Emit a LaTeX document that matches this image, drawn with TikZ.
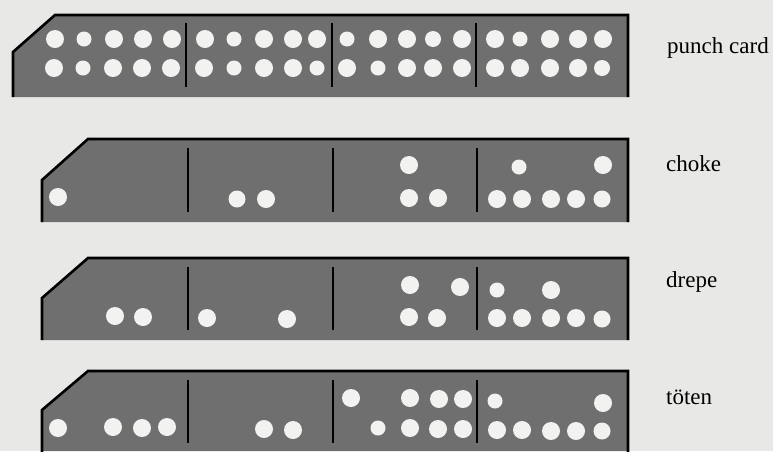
\documentclass[tikz,border=0pt]{standalone}
\usepackage{fontspec}
\setmainfont{Liberation Serif}
\definecolor{paper}{HTML}{E8E8E6}
\definecolor{cardgrey}{HTML}{6F6F6F}
\definecolor{holewhite}{HTML}{F2F2F0}
\tikzset{
  cardbody/.style={fill=cardgrey, draw=none},
  cardedge/.style={draw=black, line width=2.6pt, line join=miter},
  divider/.style={draw=black, line width=2.2pt},
  hole/.style={fill=holewhite, draw=none},
  lbl/.style={anchor=base west, inner sep=0pt, font=\fontsize{23}{26}\selectfont}
}
\begin{document}
\begin{tikzpicture}[x=1pt,y=-1pt]
\fill[paper] (0,0) rectangle (773,451);
\useasboundingbox (0,0) rectangle (773,451);

% ---- card 1 : punch card
\fill[cardbody] (13,97) -- (13,52) -- (55,15) -- (628,15) -- (628,97) -- cycle;
\draw[cardedge] (13,97) -- (13,52) -- (55,15) -- (628,15) -- (628,97);
\foreach \x in {186,332,476} \draw[divider] (\x,23) -- (\x,87);
\foreach \x/\y/\r in {55/39/9,84/39/7.5,114/39/9,143/39/9,172/39/9,
                      54/68/9,83/68/7.5,113/68/9,142/68/9,171/68/9,
                      205/39/9,234/39/7.5,264/39/9,293/39/9,317/39/9,
                      204/68/9,234/68/7.5,264/68/9,293/68/9,317/68/7.5,
                      347/39/7.5,378/39/9,407/39/9,433/39/8,462/39/9,
                      347/68/9,378/68/7.5,407/68/9,433/68/9,462/68/9,
                      495/39/9,520/39/7.5,550/39/9,578/39/9,603/39/9,
                      495/68/9,520/68/9,550/68/9,578/68/9,602/68/8}
  \fill[hole] (\x,\y) circle (\r);
\node[lbl] (l1) at (667,53) {punch card};

% ---- card 2 : choke
\fill[cardbody] (42,222) -- (42,180) -- (88,139) -- (628,139) -- (628,222) -- cycle;
\draw[cardedge] (42,222) -- (42,180) -- (88,139) -- (628,139) -- (628,222);
\foreach \x in {188,333,477} \draw[divider] (\x,148) -- (\x,212);
\foreach \x/\y/\r in {58/197/9,
                      237/199/8.5,266/199/9,
                      409/165/9,409/198/9,438/198/9,
                      519/167/7.5,603/165/9,
                      497/199/9,522/199/9,551/199/9,576/199/9,602/199/8.5}
  \fill[hole] (\x,\y) circle (\r);
\node[lbl] (l2) at (666,171) {choke};

% ---- card 3 : drepe
\fill[cardbody] (42,340) -- (42,298) -- (88,258) -- (628,258) -- (628,340) -- cycle;
\draw[cardedge] (42,340) -- (42,298) -- (88,258) -- (628,258) -- (628,340);
\foreach \x in {188,333,477} \draw[divider] (\x,267) -- (\x,330);
\foreach \x/\y/\r in {115/316/9,143/317/9,
                      207/318/9,287/319/9,
                      410/285/9,460/287/9,409/317/9,437/318/9,
                      497/290/7.5,551/290/9,
                      497/318/9,522/318/9,551/318/9,576/318/9,602/319/8.5}
  \fill[hole] (\x,\y) circle (\r);
\node[lbl] (l3) at (666,287) {drepe};

% ---- card 4 : töten
\fill[cardbody] (42,451) -- (42,410) -- (88,371) -- (628,371) -- (628,451) -- cycle;
\draw[cardedge] (42,452) -- (42,410) -- (88,371) -- (628,371) -- (628,452);
\foreach \x in {188,333,477} \draw[divider] (\x,380) -- (\x,443);
\foreach \x/\y/\r in {58/428/9,113/427/9,142/428/9,167/427/9,
                      264/429/9,293/430/9,
                      351/398/9,410/398/9,439/399/9,463/399/9,
                      378/428/7.5,410/428/9,438/429/9,463/429/9,
                      495/401/7.5,603/403/9,
                      497/430/9,522/430/9,551/431/9,576/431/9,602/431/8.5}
  \fill[hole] (\x,\y) circle (\r);
\node[lbl] (l4) at (666,404) {töten};
\end{tikzpicture}
\end{document}
